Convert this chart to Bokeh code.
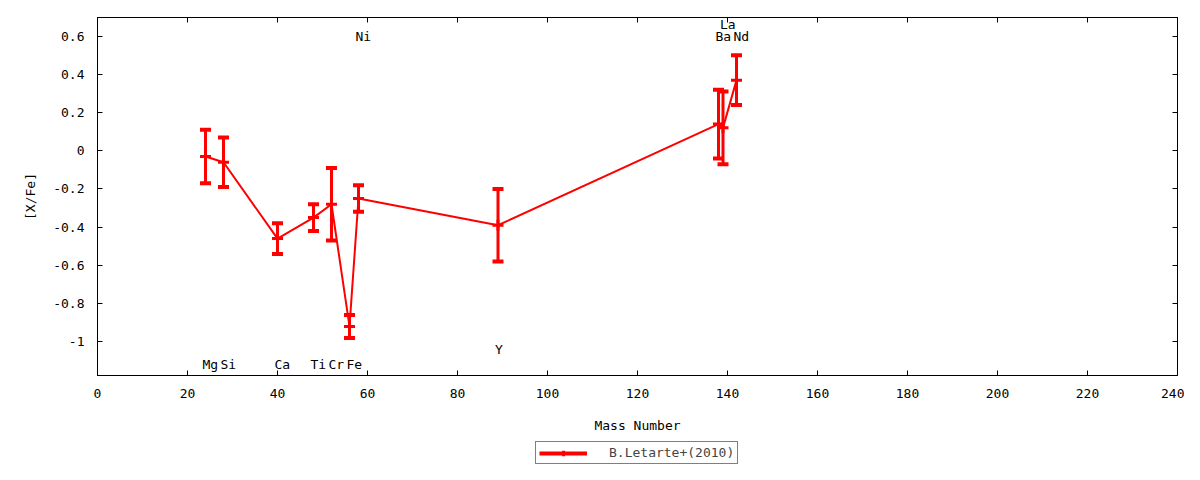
from bokeh.plotting import figure
from bokeh.layouts import column
from bokeh.models import Range1d, FixedTicker, LinearAxis, Legend, LegendItem
from bokeh.core.properties import value
from bokeh.embed import file_html
from bokeh.resources import INLINE

# abundances
elements = ["Mg", "Si", "Ca", "Ti", "Cr", "Fe", "Ni", "Y", "Ba", "La", "Nd"]
mass = [24, 28, 40, 48, 52, 56, 58, 89, 138, 139, 142]
xfe = [-0.03, -0.06, -0.46, -0.35, -0.28, -0.92, -0.25, -0.39, 0.14, 0.12, 0.37]
err = [0.14, 0.13, 0.08, 0.07, 0.19, 0.06, 0.07, 0.19, 0.18, 0.19, 0.13]
label_y = [-1.12, -1.12, -1.12, -1.12, -1.12, -1.12, 0.6, -1.04, 0.6, 0.66, 0.6]

x_ticks = [0, 20, 40, 60, 80, 100, 120, 140, 160, 180, 200, 220, 240]
y_ticks = [-1, -0.8, -0.6, -0.4, -0.2, 0, 0.2, 0.4, 0.6]
y_tick_labels = ["-1", "-0.8", "-0.6", "-0.4", "-0.2", "0", "0.2", "0.4", "0.6"]

series_name = "B.Letarte+(2010)"
FONT = "DejaVu Sans Mono"
RED = "#ff0000"

lower = [v - e for v, e in zip(xfe, err)]
upper = [v + e for v, e in zip(xfe, err)]

p = figure(width=1184, height=440, output_backend="svg", toolbar_location=None,
           x_range=Range1d(0, 240), y_range=Range1d(-1.177, 0.698),
           min_border_left=97, min_border_right=7, min_border_top=17, min_border_bottom=65)

p.background_fill_color = "white"
p.border_fill_color = "white"
p.outline_line_color = "black"
p.outline_line_width = 1
p.xgrid.visible = False
p.ygrid.visible = False

# data
p.line(mass, xfe, line_color=RED, line_width=2)
p.segment(mass, lower, mass, upper, line_color=RED, line_width=3)
p.scatter(mass, lower, marker="dash", size=11, line_color=RED, line_width=4)
p.scatter(mass, upper, marker="dash", size=11, line_color=RED, line_width=4)
p.scatter(mass, xfe, marker="cross", size=11, line_color=RED, line_width=3)

# element labels
p.text(mass, label_y, text=elements, text_font=value(FONT), text_font_size="13px",
       text_align="left", text_baseline="middle", text_color="black", x_offset=-3)

# axes
for ax in (p.xaxis[0], p.yaxis[0]):
    ax.major_tick_in = 5
    ax.major_tick_out = 0
    ax.minor_tick_line_color = None
    ax.axis_line_color = "black"
    ax.major_tick_line_color = "black"
    ax.major_label_text_font = FONT
    ax.major_label_text_font_size = "13px"
    ax.major_label_text_color = "black"
    ax.axis_label_text_font = FONT
    ax.axis_label_text_font_size = "13px"
    ax.axis_label_text_font_style = "normal"
    ax.axis_label_text_color = "black"

p.xaxis.ticker = FixedTicker(ticks=x_ticks)
p.yaxis.ticker = FixedTicker(ticks=y_ticks)
p.yaxis.major_label_overrides = dict(zip(y_ticks, y_tick_labels))
p.xaxis.axis_label = "Mass Number"
p.yaxis.axis_label = "[X/Fe]"
p.xaxis.major_label_standoff = 13
p.xaxis.axis_label_standoff = 17
p.yaxis.major_label_standoff = 13
p.yaxis.axis_label_standoff = 12

# mirrored ticks on top and right, labels not drawn
top = LinearAxis(ticker=FixedTicker(ticks=x_ticks), major_tick_in=5, major_tick_out=0,
                 minor_tick_line_color=None, axis_line_color="black",
                 major_label_text_font_size="0px", major_label_text_color=None,
                 major_label_standoff=0)
right = LinearAxis(ticker=FixedTicker(ticks=y_ticks), major_tick_in=5, major_tick_out=0,
                   minor_tick_line_color=None, axis_line_color="black",
                   major_label_text_font_size="0px", major_label_text_color=None,
                   major_label_standoff=0)
p.add_layout(top, "above")
p.add_layout(right, "right")

# key strip under the chart (the series is drawn out of view, only its key shows)
k = figure(width=1184, height=24, output_backend="svg", toolbar_location=None,
           x_range=Range1d(1000, 1001), y_range=Range1d(1000, 1001),
           min_border=0)
k.axis.visible = False
k.grid.visible = False
k.outline_line_color = None
k.background_fill_color = "white"
k_ln = k.line(mass, xfe, line_color=RED, line_width=4)
k_pt = k.scatter(mass, xfe, marker="cross", size=11, line_color=RED, line_width=3)

legend = Legend(items=[LegendItem(label=series_name, renderers=[k_ln, k_pt])],
                location=(438, 0), orientation="horizontal",
                label_text_font=FONT, label_text_font_size="13px",
                border_line_color="black", border_line_width=1,
                padding=3, margin=0, spacing=0,
                glyph_width=48, glyph_height=14, label_height=14,
                label_standoff=22, background_fill_alpha=1)
k.add_layout(legend, "center")

open("out.html", "w").write(file_html(column(p, k, spacing=0), INLINE))
